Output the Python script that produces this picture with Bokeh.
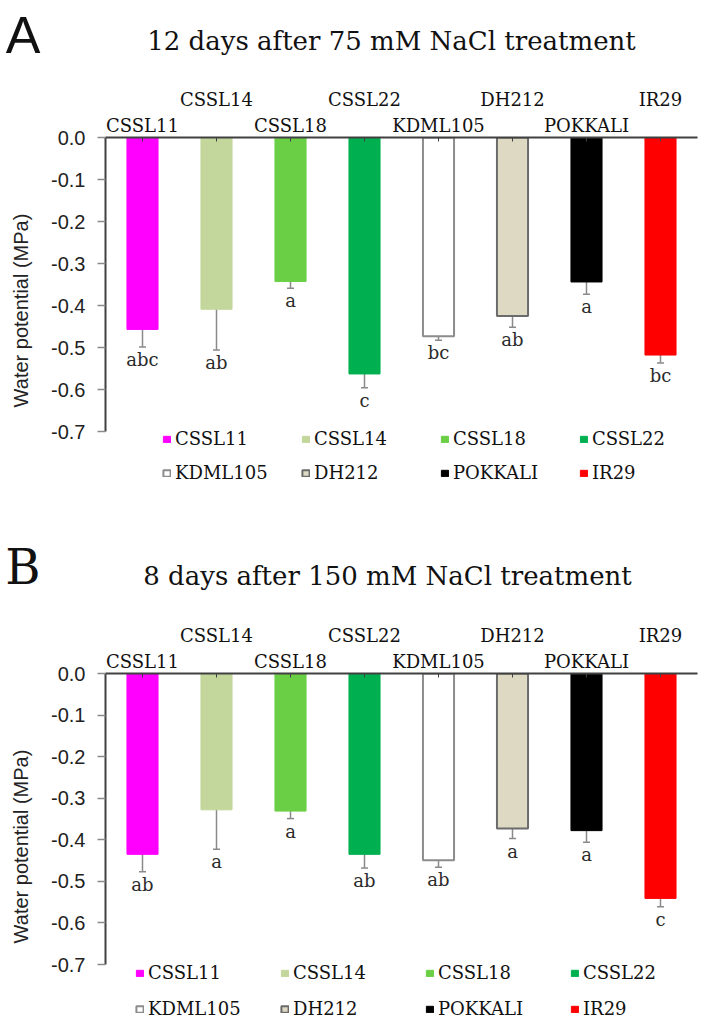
from bokeh.plotting import figure
from bokeh.models import (Range1d, FixedTicker, PrintfTickFormatter,
                          LinearAxis, Whisker, TeeHead, ColumnDataSource,
                          Legend, LegendItem)
from bokeh.layouts import column
from bokeh.core.properties import value
from bokeh.embed import file_html
from bokeh.resources import INLINE

cultivars = ["CSSL11", "CSSL14", "CSSL18", "CSSL22", "KDML105", "DH212", "POKKALI", "IR29"]
fill_colors = ["#FF00FF", "#C3D69B", "#6ACF45", "#00B050", "#FFFFFF", "#DDD9C3", "#000000", "#FF0000"]
line_colors = ["#FF00FF", "#C3D69B", "#6ACF45", "#00B050", "#8C8C8C", "#6B6B6B", "#000000", "#FF0000"]
line_widths = [1, 1, 1, 1, 2, 2, 1, 1]
y_ticks = [0.0, -0.1, -0.2, -0.3, -0.4, -0.5, -0.6, -0.7]
y_min, y_max = -0.7, 0.0

a_tag = "A"
a_title = "12 days after 75 mM NaCl treatment"
a_mean = [-0.457, -0.409, -0.343, -0.563, -0.473, -0.425, -0.344, -0.518]
a_err = [0.042, 0.097, 0.016, 0.033, 0.010, 0.027, 0.029, 0.019]
a_letters = ["abc", "ab", "a", "c", "bc", "ab", "a", "bc"]

b_tag = "B"
b_title = "8 days after 150 mM NaCl treatment"
b_mean = [-0.435, -0.328, -0.331, -0.435, -0.449, -0.373, -0.378, -0.541]
b_err = [0.042, 0.095, 0.018, 0.033, 0.017, 0.024, 0.028, 0.020]
b_letters = ["ab", "a", "a", "ab", "ab", "a", "a", "c"]

SERIF = "DejaVu Serif"
SANS = "Liberation Sans"


def make_header(tag, tag_font, tag_size, tag_standoff, title, title_cx, title_base, h):
    hd = figure(x_range=Range1d(105, 697), y_range=Range1d(h, 0),
                frame_width=592, frame_height=h,
                min_border_left=105, min_border_right=18, min_border_top=0, min_border_bottom=0,
                x_axis_location=None, y_axis_location=None, title=None,
                output_backend="svg", toolbar_location=None)
    hd.outline_line_color = None
    hd.grid.visible = False
    ax = LinearAxis(ticker=FixedTicker(ticks=[]), axis_label=tag)
    try:
        ax.axis_label_orientation = "horizontal"
    except AttributeError:
        pass
    ax.axis_label_text_font = tag_font
    ax.axis_label_text_font_size = tag_size
    ax.axis_label_text_font_style = "normal"
    ax.axis_label_text_color = "#111111"
    ax.axis_label_standoff = tag_standoff
    ax.axis_line_color = None
    ax.major_tick_line_color = None
    ax.minor_tick_line_color = None
    ax.major_tick_out = 0
    ax.major_tick_in = 0
    ax.major_label_standoff = 0
    hd.add_layout(ax, "left")
    hd.text(x=[title_cx], y=[title_base], text=[title], text_font=value(SERIF),
            text_font_size="26px", text_align="center", text_baseline="alphabetic",
            text_color="#111111")
    return hd


def make_panel(means, errs, letters, plot_h, legend_h, border_top, border_bottom,
               legend_x, legend_spacing, legend_label_w):
    n = len(cultivars)
    slots = [i + 0.5 for i in range(n)]  # one slot per cultivar on the category axis
    # the frame is extended below -0.7 to hold the legend; the axis is bounded to the data span
    y_start = y_min * (plot_h + legend_h) / plot_h
    p = figure(x_range=Range1d(0, n), y_range=Range1d(y_start, y_max),
               frame_width=592, frame_height=plot_h + legend_h,
               min_border_left=105, min_border_top=border_top, min_border_right=18,
               min_border_bottom=border_bottom,
               x_axis_location=None, title=None, output_backend="svg", toolbar_location=None)
    p.outline_line_color = None
    p.grid.visible = False

    src = ColumnDataSource(dict(
        x=slots, name=cultivars, mean=means, zero=[0.0] * n,
        upper=[m + e for m, e in zip(means, errs)],
        lower=[m - e for m, e in zip(means, errs)],
        letters=letters, fill=fill_colors, line=line_colors, lw=line_widths))

    bars = p.vbar(x="x", top="zero", bottom="mean", width=0.42, source=src,
                  fill_color="fill", line_color="line", line_width="lw")

    whisk = Whisker(base="x", upper="upper", lower="lower", source=src,
                    line_color="#8A8A8A", line_width=1.5,
                    upper_head=TeeHead(size=7, line_color="#8A8A8A", line_width=1.5),
                    lower_head=TeeHead(size=7, line_color="#8A8A8A", line_width=1.5))
    p.add_layout(whisk)

    p.text(x="x", y="lower", text="letters", source=src,
           text_font=value(SERIF), text_font_size="18px", text_align="center",
           text_baseline="top", y_offset=2, text_color="#2B2B2B")

    # y axis
    ya = p.yaxis[0]
    ya.bounds = (y_min, y_max)
    ya.ticker = FixedTicker(ticks=y_ticks)
    ya.formatter = PrintfTickFormatter(format="%.1f")
    ya.axis_label = "Water potential (MPa)"
    ya.axis_label_text_font = SANS
    ya.axis_label_text_font_size = "20px"
    ya.axis_label_text_font_style = "normal"
    ya.axis_label_text_color = "#222222"
    ya.axis_label_standoff = 16
    ya.major_label_text_font = SANS
    ya.major_label_text_font_size = "20px"
    ya.major_label_text_color = "#222222"
    ya.major_label_standoff = 12
    ya.major_tick_out = 8
    ya.major_tick_in = 0
    ya.major_tick_line_color = "#8A8A8A"
    ya.major_tick_line_width = 1.5
    ya.minor_tick_line_color = None
    ya.axis_line_color = "#404040"
    ya.axis_line_width = 2

    # top category labels, staggered in two rows (one axis per row)
    even = slots[0::2]
    odd = slots[1::2]
    ax1 = LinearAxis(ticker=FixedTicker(ticks=even, minor_ticks=odd),
                     major_label_overrides={s: c for s, c in zip(even, cultivars[0::2])})
    ax2 = LinearAxis(ticker=FixedTicker(ticks=odd),
                     major_label_overrides={s: c for s, c in zip(odd, cultivars[1::2])})
    for ax in (ax1, ax2):
        ax.major_label_text_font = SERIF
        ax.major_label_text_font_size = "18px"
        ax.major_label_text_color = "#111111"
        ax.major_label_standoff = 2
        ax.major_tick_out = 0
        ax.minor_tick_out = 0
    ax1.major_tick_in = 4
    ax1.minor_tick_in = 4
    ax1.major_tick_line_color = "#404040"
    ax1.minor_tick_line_color = "#404040"
    ax1.axis_line_color = "#404040"
    ax1.axis_line_width = 2
    ax2.major_tick_in = 0
    ax2.minor_tick_in = 0
    ax2.major_tick_line_color = None
    ax2.minor_tick_line_color = None
    ax2.axis_line_color = None
    p.add_layout(ax1, "above")
    p.add_layout(ax2, "above")

    # legend under the bars, 4 columns x 2 rows
    items = [LegendItem(label=c, renderers=[bars], index=i) for i, c in enumerate(cultivars)]
    leg = Legend(items=items, location=(legend_x, 0), orientation="horizontal", ncols=4,
                 label_text_font=SERIF, label_text_font_size="18px", label_text_color="#111111",
                 glyph_width=9, glyph_height=8, label_standoff=4,
                 label_width=legend_label_w, label_height=16, spacing=legend_spacing,
                 padding=0, margin=0, border_line_color=None, background_fill_alpha=0)
    p.add_layout(leg, "center")
    return p


hA = make_header(a_tag, SANS, "52px", 65, a_title, 391, 40, 68)
pA = make_panel(a_mean, a_err, a_letters, 294, 52, 69, 53, 57, 13, 113)
hB = make_header(b_tag, SERIF, "48px", 65, b_title, 387, 39, 60)
pB = make_panel(b_mean, b_err, b_letters, 291, 55, 77, 10, 30, 15, 117)

layout = column(hA, pA, hB, pB, spacing=0)
open("out.html", "w").write(file_html(layout, INLINE))
